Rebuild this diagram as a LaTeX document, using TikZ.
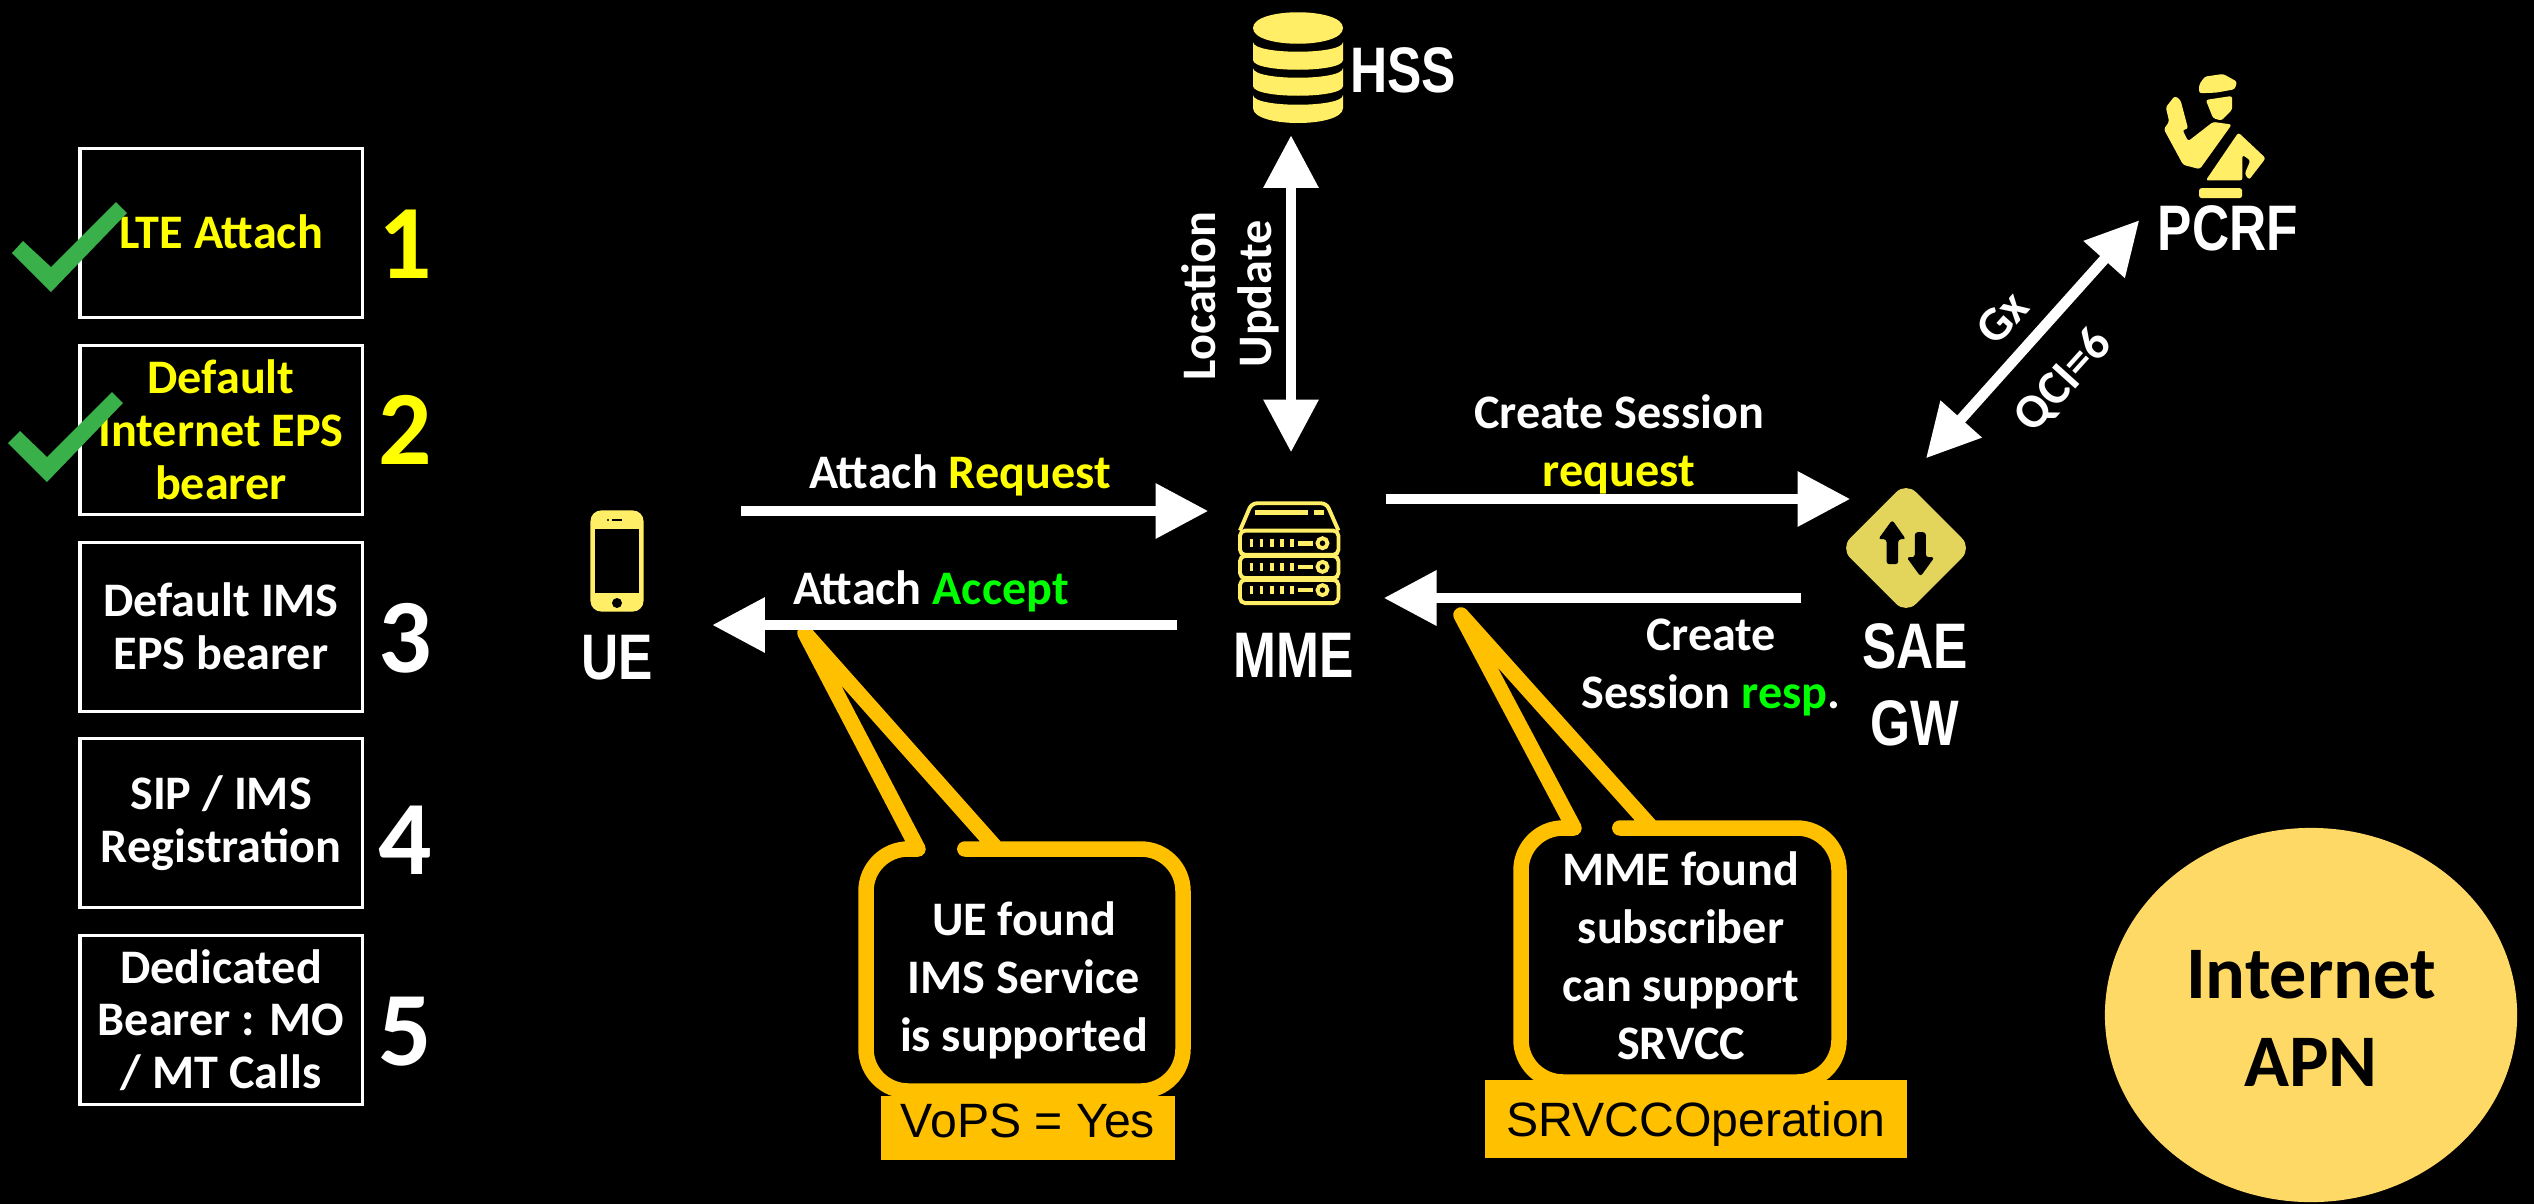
\documentclass[tikz,border=0pt]{standalone}
\usepackage{fontspec}
\setmainfont{Carlito}
\newfontfamily\iconfont[FakeStretch=0.8]{Liberation Sans}
\newfontfamily\tagfont{Liberation Sans}
\usepackage{tikz}
\usetikzlibrary{arrows.meta,shapes.geometric}
\definecolor{iconyellow}{HTML}{FFEE66}
\definecolor{gwyellow}{HTML}{E3D55B}
\definecolor{noteorange}{HTML}{FFC000}
\definecolor{apnyellow}{HTML}{FFD966}
\definecolor{checkgreen}{HTML}{39B04A}
\definecolor{doneyellow}{HTML}{FFFF00}
\definecolor{okgreen}{HTML}{00FF00}
\tikzset{
    notestyle/.style={draw=noteorange,fill=black,line width=4.4pt,line join=round},
}

\begin{document}
\begin{tikzpicture}[x=0.01cm,y=-0.01cm]
    \useasboundingbox (0,0) rectangle (2534,1203);
    \fill [black] (-10,-10) rectangle (2544,1213);

    \begin{scope}[every node/.style={draw=white,line width=0.9pt,minimum width=2.82cm,minimum height=1.69cm,inner sep=0pt,
                                     align=center,text=white,font=\fontsize{13.7}{15}\selectfont\bfseries}]
        \node (attach) at (221,233) {\raisebox{0.9pt}{\textcolor{doneyellow}{LTE Attach}}};
        \node (internet) at (221,430) {\textcolor{doneyellow}{Default}\\\textcolor{doneyellow}{Internet EPS}\\\textcolor{doneyellow}{bearer}};
        \node (ims) at (221,627) {\raisebox{0.6pt}{Default IMS}\\\raisebox{0.6pt}{EPS bearer}};
        \node (sip) at (221,823) {SIP / IMS\\Registration};
        \node (dedicated) at (221,1020) {Dedicated\\Bearer : MO\\/ MT Calls};
    \end{scope}

    \begin{scope}[every node/.style={text=white,inner sep=0pt,font=\fontsize{30}{30}\selectfont\bfseries}]
        \node (one) at (405,244) {\textcolor{doneyellow}{1}};
        \node (two) at (405,430) {\textcolor{doneyellow}{2}};
        \node (three) at (405,638) {3};
        \node (four) at (405,840) {4};
        \node (five) at (405,1032) {5};
    \end{scope}

    \fill [checkgreen] (12,253) -- (23,241) -- (51,267) -- (116,202) -- (127,213) -- (51,292) -- cycle;
    \fill [checkgreen] (8,443) -- (20,431) -- (47,457) -- (112,392) -- (123,403) -- (47,482) -- cycle;

    \draw [notestyle] (805,633) -- (918,849) -- (908,849) [rounded corners=12pt] -- (866,849) -- (866,1091) -- (1183,1091) -- (1183,849) -- (1007,849) [sharp corners] -- (997,849) -- cycle;
    \draw [notestyle] (1461,615) -- (1574,828) -- (1564,828) [rounded corners=12pt] -- (1521,828) -- (1521,1082) -- (1839,1082) -- (1839,828) -- (1662,828) [sharp corners] -- (1652,828) -- cycle;

    \begin{scope}[every node/.style={text=white,inner sep=0pt,align=center,font=\fontsize{13.7}{16.5}\selectfont\bfseries}]
        \node (uefound) at (1024,980) {UE found\\IMS Service\\is supported};
        \node (mmefound) at (1681,956) {MME found\\subscriber\\can support\\SRVCC};
    \end{scope}

    \begin{scope}[every node/.style={fill=noteorange,inner sep=0pt}]
        \node [minimum width=2.94cm,minimum height=0.64cm] (vops) at (1028,1128) {};
        \node [minimum width=4.21cm,minimum height=0.78cm] (srvcc) at (1696,1119) {};
    \end{scope}

    \begin{scope}[every node/.style={text=black,inner sep=0pt,font=\fontsize{13.7}{15}\selectfont\tagfont}]
        \node (vopslabel) at (1028,1121) {VoPS = Yes};
        \node (srvcclabel) at (1696,1124) {SRVCCOperation};
    \end{scope}

    \node [ellipse,fill=apnyellow,inner sep=0pt,minimum width=4.12cm,minimum height=3.74cm] (apn) at (2311,1015) {};
    \node [text=black,inner sep=0pt,align=center,font=\fontsize{21.1}{25}\selectfont\bfseries] (apnlabel) at (2311,1018) {Internet\\APN};

    \node [fill=iconyellow,rounded corners=3pt,minimum width=0.53cm,minimum height=1.01cm,inner sep=0pt] (ueicon) at (617,561) {};
    \fill [black] (595,529) rectangle (639,593);
    \fill [black] (617,603) circle (5);
    \draw [black,line width=0.8pt] (612,520) -- (622,520);
    \fill [black] (608,520) circle (1.2);

    \node [minimum width=1.02cm,minimum height=1.02cm,inner sep=0pt] (mmeicon) at (1289,553) {};
    \begin{scope}[shift={(1200,470)},x=0.00333cm,y=-0.00333cm,draw=iconyellow,line width=1.1pt,rounded corners=1.5pt]
        \draw (120,182) -- (155,100) -- (380,100) -- (416,182);
        \draw (120,182) rectangle (416,255);
        \draw (120,258) rectangle (416,325);
        \draw (120,330) rectangle (416,400);
        \draw [line width=1.4pt] (165,127) -- (325,127);
        \draw [line width=1.4pt] (342,127) -- (372,127);
        \draw [line width=2.2pt,sharp corners,dash pattern=on 1.1pt off 1.75pt] (149,220) -- (285,220);
        \draw [line width=2.2pt,sharp corners,dash pattern=on 1.1pt off 1.75pt] (149,291) -- (285,291);
        \draw [line width=2.2pt,sharp corners,dash pattern=on 1.1pt off 1.75pt] (149,361) -- (285,361);
        \draw [line width=1.3pt] (295,220) -- (340,220);
        \draw [line width=1.3pt] (295,291) -- (340,291);
        \draw [line width=1.3pt] (295,361) -- (340,361);
        \draw (368,220) circle (15);
        \draw (368,291) circle (15);
        \draw (368,361) circle (15);
    \end{scope}

    \node [minimum width=0.9cm,minimum height=1.13cm,inner sep=0pt] (hssicon) at (1298,67) {};
    \fill [iconyellow] (1253,28) .. controls (1253,7) and (1343,7) .. (1343,28) .. controls (1343,49) and (1253,49) .. (1253,28) -- cycle;
    \fill [iconyellow] (1253,42) .. controls (1253,55) and (1343,55) .. (1343,42) -- (1343,60) .. controls (1343,73) and (1253,73) .. (1253,60) -- cycle;
    \fill [iconyellow] (1253,68) .. controls (1253,81) and (1343,81) .. (1343,68) -- (1343,86) .. controls (1343,99) and (1253,99) .. (1253,86) -- cycle;
    \fill [iconyellow] (1253,95) .. controls (1253,108) and (1343,108) .. (1343,95) -- (1343,108) .. controls (1343,128) and (1253,128) .. (1253,108) -- cycle;

    \node [diamond,fill=gwyellow,rounded corners=4pt,minimum width=1.32cm,minimum height=1.32cm,inner sep=0pt] (gwicon) at (1906,548) {};
    \begin{scope}[shift={(1820,470)},x=0.00333cm,y=-0.00333cm]
        \fill [black,rounded corners=0.8pt] (217,150) -- (258,208) -- (235,208) -- (235,283) -- (200,283) -- (200,208) -- (175,208) -- cycle;
        \fill [black,rounded corners=0.8pt] (302,320) -- (344,262) -- (318,262) -- (318,187) -- (285,187) -- (285,262) -- (260,262) -- cycle;
    \end{scope}

    \node [minimum width=1.26cm,minimum height=1.25cm,inner sep=0pt] (pcrficon) at (2215,135) {};
    \begin{scope}[shift={(2050,50)},x=0.00333cm,y=-0.00333cm,rounded corners=0.7pt]
        \fill [iconyellow] (448,104) -- (465,80) -- (520,72) -- (562,95) -- (555,118) -- (500,128) -- (448,130) -- cycle;
        \fill [iconyellow] (468,150) -- (547,138) -- (547,180) -- (515,212) -- (490,205) -- cycle;
        \fill [iconyellow] (348,172) -- (375,138) -- (392,150) -- (415,237) -- (398,240) -- (415,274) -- (490,216) -- (546,224) -- (450,358) -- (400,345) -- (342,238) -- (358,215) -- cycle;
        \fill [iconyellow] (566,248) -- (648,325) -- (598,390) -- (585,372) -- (602,332) -- (578,315) -- (578,392) -- (468,392) -- cycle;
        \fill [iconyellow] (448,415) rectangle (577,445);
    \end{scope}

    \begin{scope}[every node/.style={text=white,inner sep=0pt,align=center,font=\fontsize{18.3}{22}\selectfont\iconfont\bfseries}]
        \node (ue) at (617,658) {UE};
        \node (mme) at (1294,655) {MME};
        \node (gw) at (1915,685) {SAE\\GW};
        \node (hss) at (1403,70) {HSS};
        \node (pcrf) at (2228,228) {PCRF};
    \end{scope}

    \begin{scope}[every node/.style={text=white,inner sep=0pt,align=center,font=\fontsize{13.7}{16.5}\selectfont\bfseries}]
        \node (attreq) at (960,475) {Attach \textcolor{doneyellow}{Request}};
        \node (attacc) at (931,591) {Attach \textcolor{okgreen}{Accept}};
        \node (csreq) at (1619,444) {Create Session\\\textcolor{doneyellow}{request}};
        \node (csresp) at (1711,667) {Create\\Session \textcolor{okgreen}{resp}.};
        \node [rotate=90] (location) at (1199,296) {Location};
        \node [rotate=90] (update) at (1258,294) {Update};
        \node [rotate=48] (gx) at (2002,318) {Gx};
        \node [rotate=48] (qci) at (2064,381) {QCI=6};
    \end{scope}

    \begin{scope}[>={Triangle[length=15pt,width=15pt,white]},
                  every edge/.style={draw=white,line width=3pt}]
        \path [->] ([shift={(97,-50)}]ueicon.east) edge ([shift={(-29,-42)}]mmeicon.west);
        \path [->] ([shift={(-60,72)}]mmeicon.west) edge ([shift={(68,64)}]ueicon.east);
        \path [->] ([shift={(45,-54)}]mmeicon.east) edge ([shift={(11,-49)}]gwicon.west);
        \path [->] ([shift={(-38,50)}]gwicon.west) edge ([shift={(43,45)}]mmeicon.east);
        \path [<->] ([shift={(2,-49)}]mmeicon.north) edge ([shift={(-7,11)}]hssicon.south);
        \path [<->] ([shift={(20,-23)}]gwicon.north) edge ([shift={(-12,22)}]pcrficon.south west);
    \end{scope}
\end{tikzpicture}
\end{document}
